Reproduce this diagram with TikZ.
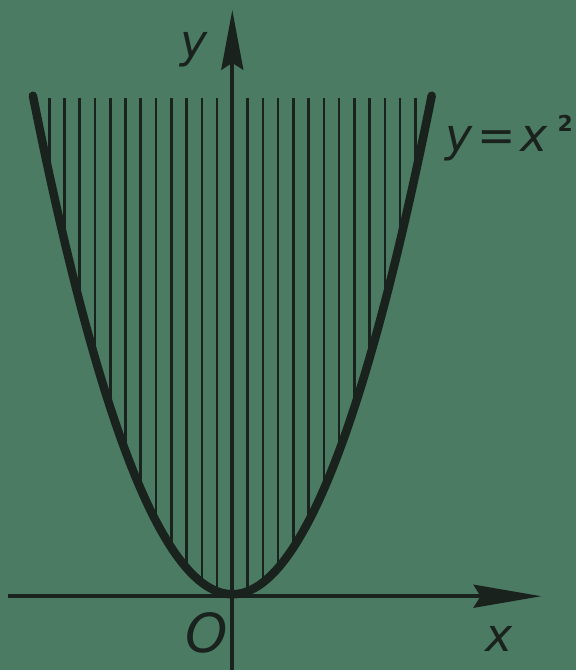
\documentclass[tikz,border=0pt]{standalone}
\usepackage{fontspec}
\setmainfont{DejaVu Sans}
\usepackage{xcolor}
\usepackage{tikz}
\usetikzlibrary{arrows.meta}

\definecolor{board}{RGB}{76,123,100}
\definecolor{ink}{RGB}{26,34,30}

\begin{document}
\begin{tikzpicture}[
  x=1pt,y=1pt,
  font=\fontsize{46}{46}\selectfont\itshape,
  axis/.style={draw=ink,line width=4pt},
  curve/.style={draw=ink,line width=8.5pt,line cap=round,line join=round},
  hatch/.style={draw=ink,line width=2.6pt},
  lbl/.style={text=ink,inner sep=0pt}
]
% ---- background ----
\fill[board] (-233,-75) rectangle (345,597);

% ---- hatching ----
\foreach \k in {1,...,12}{
  \draw[hatch] ({\k*15.3},{\k*15.3/80*\k*15.3}) -- ({\k*15.3},499);
  \draw[hatch] ({-\k*15.3},{\k*15.3/80*\k*15.3}) -- ({-\k*15.3},499);
}

% ---- axes ----
\coordinate (xstart) at (-225,-1);
\coordinate (xend) at (310,-1);
\coordinate (ystart) at (0,-75);
\coordinate (yend) at (0,587);
\draw[axis,-{Stealth[length=68pt,width=23pt,inset=7pt]}] (xstart) -- (xend);
\draw[axis,-{Stealth[length=60pt,width=22pt,inset=7pt]}] (ystart) -- (yend);

% ---- parabola ----
\draw[curve] plot[domain=-200:200,samples=121] (\x,{\x/80*\x+1});

% ---- labels ----
\node[lbl] (ylab) at (-38,547) {y};
\node[lbl] (xlab) at (268,-44) {x};
\node[lbl,font=\fontsize{54}{54}\selectfont\itshape] (olab) at (-26,-38) {O};
\node[lbl,anchor=base west] (eq) at (214,445)
  {y\kern5pt=\kern4pt x\kern10pt\raisebox{20pt}{\upshape\bfseries\fontsize{22}{22}\selectfont 2}};

\end{tikzpicture}
\end{document}
